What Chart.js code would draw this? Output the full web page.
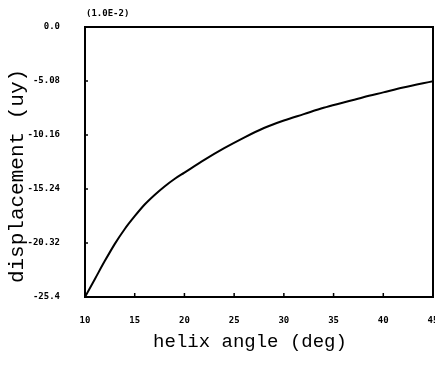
<!DOCTYPE html>
<html>
<head>
<meta charset="utf-8">
<script src="https://cdn.jsdelivr.net/npm/chart.js@4/dist/chart.umd.min.js"></script>
<style>
  html, body { margin: 0; padding: 0; background: #fff; }
  #wrap { width: 435px; height: 365px; position: relative; }
</style>
</head>
<body>
<div id="wrap"><canvas id="dispChart"></canvas></div>
<script>
// Helix angle sweep (deg) and resulting displacement (x 1.0E-2)
const helixAngle = [10, 11, 12, 13, 14, 15, 16, 17, 18, 19, 20, 22, 24, 26, 28, 30, 32, 34, 36, 38, 40, 42, 45];
const displacement = [-25.4, -23.7, -22.0, -20.4, -19.0, -17.8, -16.7, -15.8, -15.0, -14.3, -13.7, -12.5, -11.4, -10.4, -9.5, -8.8, -8.2, -7.6, -7.1, -6.6, -6.15, -5.7, -5.1];

// Axis ticks
const xTickValues = [10, 15, 20, 25, 30, 35, 40, 45];
const yTickValues = [0, -5.08, -10.16, -15.24, -20.32, -25.4];
const yTickLabels = ['0.0', '-5.08', '-10.16', '-15.24', '-20.32', '-25.4'];

const tickFont = { family: 'DejaVu Sans Mono', size: 9, weight: 'bold' };

// Frame, inward tick marks, axis titles and the scale factor note
const framePlugin = {
  id: 'frame',
  afterDraw(chart) {
    const { ctx, chartArea: a, scales } = chart;
    ctx.save();
    ctx.strokeStyle = '#000';
    ctx.lineWidth = 2;
    ctx.strokeRect(a.left, a.top, a.right - a.left, a.bottom - a.top);

    ctx.lineWidth = 1.5;
    ctx.beginPath();
    xTickValues.forEach(v => {
      const px = scales.x.getPixelForValue(v);
      ctx.moveTo(px, a.bottom);
      ctx.lineTo(px, a.bottom - 4);
    });
    yTickValues.forEach(v => {
      const py = scales.y.getPixelForValue(v);
      ctx.moveTo(a.left, py);
      ctx.lineTo(a.left + 3, py);
    });
    ctx.stroke();

    ctx.fillStyle = '#000';
    ctx.font = 'bold 9px "DejaVu Sans Mono"';
    ctx.textBaseline = 'middle';
    ctx.fillText('(1.0E-2)', a.left + 1, 14);

    ctx.textAlign = 'center';
    ctx.font = '19px "Liberation Mono"';
    ctx.fillText('helix angle (deg)', 250, 342);

    ctx.translate(17, 176);
    ctx.rotate(-Math.PI / 2);
    ctx.font = '21px "Liberation Mono"';
    ctx.fillText('displacement (uy)', 0, 0);
    ctx.restore();
  }
};

new Chart(document.getElementById('dispChart'), {
  type: 'line',
  data: {
    datasets: [{
      data: helixAngle.map((x, i) => ({ x: x, y: displacement[i] })),
      borderColor: '#000',
      borderWidth: 2,
      pointRadius: 0,
      fill: false,
      tension: 0.4,
      cubicInterpolationMode: 'monotone'
    }]
  },
  options: {
    responsive: true,
    maintainAspectRatio: false,
    animation: false,
    layout: { padding: { top: 27, right: 2, left: 0, bottom: 0 } },
    plugins: {
      legend: { display: false },
      tooltip: { enabled: false }
    },
    scales: {
      x: {
        type: 'linear',
        min: 10,
        max: 45,
        afterBuildTicks: scale => { scale.ticks = xTickValues.map(v => ({ value: v })); },
        afterFit: scale => { scale.height = 68; scale.paddingLeft = 0; scale.paddingRight = 0; },
        grid: { display: false },
        border: { display: false },
        ticks: { color: '#000', font: tickFont, padding: 10, maxRotation: 0, autoSkip: false }
      },
      y: {
        type: 'linear',
        min: -25.4,
        max: 0,
        afterBuildTicks: scale => { scale.ticks = yTickValues.map(v => ({ value: v })); },
        afterFit: scale => { scale.width = 85; scale.paddingTop = 0; scale.paddingBottom = 0; },
        grid: { display: false },
        border: { display: false },
        ticks: {
          color: '#000',
          font: tickFont,
          padding: 17,
          autoSkip: false,
          callback: (value, index) => yTickLabels[index]
        }
      }
    }
  },
  plugins: [framePlugin]
});
</script>
</body>
</html>
